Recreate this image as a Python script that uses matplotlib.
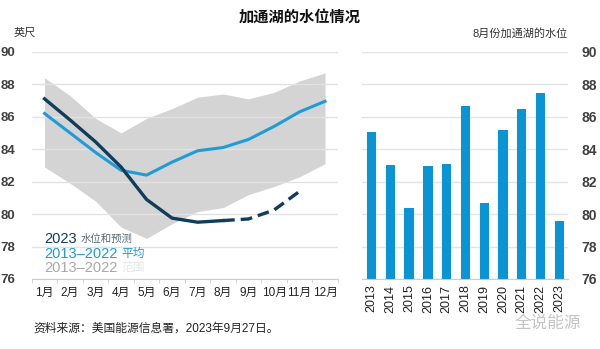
import matplotlib.pyplot as plt
import numpy as np

plt.rcParams['font.family'] = ['Liberation Sans', 'Noto Sans CJK SC']

months = ['1月', '2月', '3月', '4月', '5月', '6月', '7月', '8月', '9月', '10月', '11月', '12月']
avg_13_22 = [86.2, 85.0, 83.8, 82.7, 82.4, 83.2, 83.9, 84.1, 84.6, 85.4, 86.3, 86.95]
range_hi = [88.4, 87.3, 85.9, 85.0, 85.9, 86.5, 87.2, 87.4, 87.1, 87.5, 88.2, 88.7]
range_lo = [82.9, 81.9, 80.8, 79.2, 78.5, 79.4, 80.15, 80.4, 81.2, 81.7, 82.3, 83.1]
level_2023 = [87.1, 85.8, 84.45, 82.9, 80.9, 79.75, 79.5, 79.6]
forecast_2023 = [79.6, 79.7, 80.25, 81.4]

years = [str(y) for y in range(2013, 2024)]
aug_level = [85.03, 83.0, 80.35, 82.95, 83.1, 86.65, 80.7, 85.15, 86.45, 87.45, 79.55]

c_dark = '#0f3d5c'
c_light = '#1f9bd7'
c_bar = '#0994d5'
c_band = '#d4d4d4'
c_grid = '#e2e2e2'
c_tick = '#404040'

fig = plt.figure(figsize=(6, 3.49), dpi=100)

ax = fig.add_axes([0.053, 0.2006, 0.51, 0.651])
x = np.arange(1, 13)
ax.fill_between(x, range_lo, range_hi, color=c_band, lw=0, zorder=1)
ax.plot(x, avg_13_22, color=c_light, lw=2.2, zorder=3)
ax.plot(x[:8], level_2023, color=c_dark, lw=2.4, zorder=4)
ax.plot(x[7:11], forecast_2023, color=c_dark, lw=2.4, ls=(0, (3.5, 1.8)), zorder=4)

ax.set_xlim(0.5, 12.45)
ax.set_ylim(76, 90)
ax.set_yticks(range(76, 91, 2))
ax.set_xticks(x)
ax.set_xticklabels(months)
ax.set_xticks(np.arange(0.5, 12.6, 1), minor=True)
ax.grid(axis='y', color=c_grid, lw=1, zorder=0)
for s in ['top', 'right', 'left']:
    ax.spines[s].set_visible(False)
ax.spines['bottom'].set_color('#cccccc')
ax.tick_params(axis='y', length=0, pad=12, labelsize=9.5, labelcolor=c_tick)
ax.tick_params(axis='x', which='major', length=0, pad=6, labelsize=8.5, labelcolor='#222222')
ax.tick_params(axis='x', which='minor', length=3, color='#cccccc')
for t in ax.get_yticklabels():
    t.set_fontweight('bold')

# legend written straight into the plot area
ax.text(0.98, 78.46, '2023', color=c_dark, fontsize=10.5, va='center', fontweight='medium')
ax.text(2.42, 78.46, '水位和预测', color='#55697a', fontsize=7.5, va='center')
ax.text(0.98, 77.54, '2013–2022', color=c_light, fontsize=10.5, va='center', fontweight='medium')
ax.text(4.0, 77.54, '平均', color=c_light, fontsize=8.5, va='center')
ax.text(0.98, 76.68, '2013–2022', color='#a8a8a8', fontsize=10.5, va='center', fontweight='medium')
ax.text(4.0, 76.68, '范围', color='#e4e4e4', fontsize=8.5, va='center')

bx = fig.add_axes([0.603, 0.2006, 0.343, 0.651])
pos = np.arange(len(years))
bx.bar(pos, [v - 76 for v in aug_level], bottom=76, width=0.5, color=c_bar, zorder=2)
bx.set_xlim(-0.52, 10.44)
bx.set_ylim(76, 90)
bx.set_yticks(range(76, 91, 2))
bx.yaxis.tick_right()
bx.set_xticks(pos)
bx.set_xticklabels(years, rotation=90)
bx.grid(axis='y', color=c_grid, lw=1, zorder=0)
for s in ['top', 'right', 'left']:
    bx.spines[s].set_visible(False)
bx.spines['bottom'].set_color('#cccccc')
bx.tick_params(axis='y', length=0, pad=10, labelsize=10, labelcolor=c_tick)
bx.tick_params(axis='x', length=0, pad=4, labelsize=9, labelcolor='#222222')
for t in bx.get_yticklabels():
    t.set_fontweight('bold')

fig.text(0.5, 0.95, '加通湖的水位情况', ha='center', va='center', fontsize=11, fontweight='bold', color='#111111')
fig.text(0.022, 0.905, '英尺', ha='left', va='center', fontsize=8, color='#333333', style='italic')
fig.text(0.947, 0.905, '8月份加通湖的水位', ha='right', va='center', fontsize=8, color='#333333')
fig.text(0.056, 0.057, '资料来源：美国能源信息署，2023年9月27日。', ha='left', va='center', fontsize=8.5, color='#222222')
fig.text(0.968, 0.075, '全说能源', ha='right', va='center', fontsize=12, color='#c4c4c4')

fig.savefig('out.png', dpi=100, facecolor='white')
